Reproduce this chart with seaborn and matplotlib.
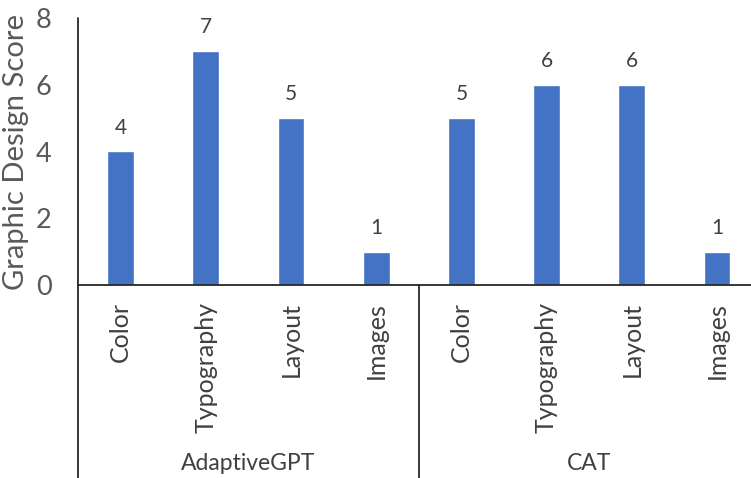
import matplotlib
matplotlib.use("Agg")
import matplotlib.pyplot as plt
import matplotlib.transforms as mtransforms
import pandas as pd
import seaborn as sns

# Scores per design aspect, grouped by system
groups = ["AdaptiveGPT", "CAT"]
aspects = ["Color", "Typography", "Layout", "Images"]
adaptivegpt_scores = [4, 7, 5, 1]
cat_scores = [5, 6, 6, 1]
y_ticks = [0, 2, 4, 6, 8]

rows = []
for g, scores in zip(groups, [adaptivegpt_scores, cat_scores]):
    for a, s in zip(aspects, scores):
        rows.append({"group": g, "aspect": a, "key": f"{g}\n{a}", "score": s})
df = pd.DataFrame(rows)

sns.set_theme(style="white")
plt.rcParams["font.family"] = ["Lato", "DejaVu Sans"]

BAR = "#4472C4"
TICK_C = "#595959"
LABEL_C = "#404040"
AXIS_C = "#262626"

fig = plt.figure(figsize=(7.51, 4.78), dpi=100)
ax = fig.add_axes([78 / 751, 1 - 285 / 478, (759.6 - 78) / 751, (285 - 18) / 478])

sns.barplot(data=df, x="key", y="score", color=BAR, width=0.315,
            saturation=1, ax=ax, order=list(df["key"]))

ax.set_ylim(0, 8)
ax.set_xlim(-0.5, len(df) - 0.5)
ax.set_yticks(y_ticks)
ax.tick_params(axis="y", length=0, pad=19, labelsize=19.5, labelcolor=TICK_C)
ax.set_xticks(range(len(df)))
ax.set_xticklabels(df["aspect"], rotation=90, fontsize=18, color=LABEL_C)
ax.tick_params(axis="x", length=0, pad=12)
ax.set_xlabel("")
ax.set_ylabel("Graphic Design Score", fontsize=21, color=TICK_C, labelpad=5)

for side in ["top", "right"]:
    ax.spines[side].set_visible(False)
ax.spines["left"].set_visible(False)
ax.spines["bottom"].set_color(AXIS_C)
ax.spines["bottom"].set_linewidth(1.3)

# value labels above bars
ax.bar_label(ax.containers[0], fmt="%d", padding=10, fontsize=15, color=LABEL_C)

# multi-level category axis: vertical dividers and group names
trans = mtransforms.blended_transform_factory(ax.transData, ax.transAxes)
depth = -(478 - 285) / (285 - 18)
ax.plot([-0.5, -0.5], [1, depth], transform=trans, color=AXIS_C, lw=1.3, clip_on=False)
n = len(aspects)
for i in range(1, len(groups) + 1):
    xd = i * n - 0.5
    ax.plot([xd, xd], [0, depth], transform=trans, color=AXIS_C, lw=1.3, clip_on=False)
for i, g in enumerate(groups):
    xc = i * n + (n - 1) / 2
    ax.text(xc, -(463 - 285) / (285 - 18), g, transform=trans, ha="center", va="center",
            fontsize=16.5, color=LABEL_C)

fig.savefig("out.png", dpi=100)
